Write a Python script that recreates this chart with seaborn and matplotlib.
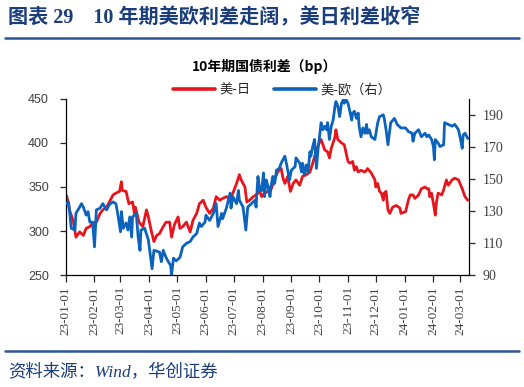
import pandas as pd
import numpy as np
import matplotlib
matplotlib.use("Agg")
import matplotlib.pyplot as plt
import matplotlib.dates as mdates
from matplotlib.lines import Line2D
import seaborn as sns

# US-Japan 10y spread (left axis, bp)
us_jp_dates = [
    "2023-01-02", "2023-01-04", "2023-01-05", "2023-01-09", "2023-01-12", "2023-01-16", "2023-01-20",
    "2023-01-23", "2023-01-27", "2023-01-30", "2023-02-03", "2023-02-07", "2023-02-10", "2023-02-14",
    "2023-02-17", "2023-02-21", "2023-02-24", "2023-02-28", "2023-03-02", "2023-03-03", "2023-03-07",
    "2023-03-10", "2023-03-14", "2023-03-16", "2023-03-17", "2023-03-21", "2023-03-25", "2023-03-29",
    "2023-03-31", "2023-04-03", "2023-04-06", "2023-04-09", "2023-04-12", "2023-04-16", "2023-04-19",
    "2023-04-23", "2023-04-25", "2023-04-28", "2023-05-02", "2023-05-04", "2023-05-07", "2023-05-11",
    "2023-05-15", "2023-05-18", "2023-05-22", "2023-05-25", "2023-05-29", "2023-06-01", "2023-06-05",
    "2023-06-09", "2023-06-12", "2023-06-16", "2023-06-19", "2023-06-23", "2023-06-27", "2023-06-30",
    "2023-07-04", "2023-07-07", "2023-07-09", "2023-07-13", "2023-07-15", "2023-07-18", "2023-07-22",
    "2023-07-25", "2023-07-29", "2023-07-31", "2023-08-03", "2023-08-07", "2023-08-10", "2023-08-14",
    "2023-08-17", "2023-08-21", "2023-08-23", "2023-08-25", "2023-08-28", "2023-08-31", "2023-09-03",
    "2023-09-06", "2023-09-10", "2023-09-13", "2023-09-17", "2023-09-21", "2023-09-24", "2023-09-28",
    "2023-10-01", "2023-10-03", "2023-10-07", "2023-10-10", "2023-10-12", "2023-10-14", "2023-10-18",
    "2023-10-19", "2023-10-21", "2023-10-25", "2023-10-28", "2023-11-01", "2023-11-03", "2023-11-06",
    "2023-11-08", "2023-11-10", "2023-11-12", "2023-11-15", "2023-11-19", "2023-11-21", "2023-11-22",
    "2023-11-26", "2023-11-30", "2023-12-01", "2023-12-03", "2023-12-05", "2023-12-07", "2023-12-09",
    "2023-12-10", "2023-12-12", "2023-12-14", "2023-12-16", "2023-12-19", "2023-12-23", "2023-12-27",
    "2023-12-28", "2024-01-02", "2024-01-05", "2024-01-07", "2024-01-10", "2024-01-12", "2024-01-16",
    "2024-01-19", "2024-01-23", "2024-01-25", "2024-01-27", "2024-01-28", "2024-01-30", "2024-02-01",
    "2024-02-03", "2024-02-04", "2024-02-06", "2024-02-10", "2024-02-12", "2024-02-15", "2024-02-17",
    "2024-02-21", "2024-02-24", "2024-02-28", "2024-03-03", "2024-03-06", "2024-03-09",
]
us_jp = [
    340, 331, 324, 312, 293, 299, 295, 303, 305, 309, 310, 320, 324, 327, 333, 341, 343, 345, 356, 346,
    345, 331, 333, 320, 327, 310, 305, 324, 316, 301, 288, 295, 297, 305, 310, 310, 293, 307, 316, 303,
    305, 310, 299, 312, 320, 331, 335, 327, 320, 326, 339, 335, 337, 339, 337, 343, 354, 364, 358, 350,
    333, 335, 339, 341, 345, 339, 343, 345, 347, 358, 367, 371, 360, 354, 362, 345, 354, 358, 352, 362,
    364, 367, 377, 392, 400, 404, 392, 390, 383, 394, 407, 415, 404, 400, 398, 379, 377, 379, 369, 373,
    367, 369, 367, 369, 371, 366, 358, 350, 354, 345, 343, 335, 343, 345, 324, 320, 327, 329, 326, 320,
    322, 335, 341, 341, 337, 341, 348, 350, 348, 348, 339, 343, 331, 318, 331, 343, 341, 347, 358, 352,
    358, 360, 358, 348, 339, 335,
]

# US-Euro 10y spread (right axis, bp)
us_eu_dates = [
    "2023-01-02", "2023-01-04", "2023-01-05", "2023-01-07", "2023-01-11", "2023-01-12", "2023-01-16",
    "2023-01-18", "2023-01-20", "2023-01-23", "2023-01-25", "2023-01-27", "2023-01-30", "2023-02-01",
    "2023-02-03", "2023-02-07", "2023-02-10", "2023-02-14", "2023-02-17", "2023-02-21", "2023-02-24",
    "2023-02-26", "2023-03-01", "2023-03-02", "2023-03-04", "2023-03-07", "2023-03-09", "2023-03-11",
    "2023-03-13", "2023-03-14", "2023-03-18", "2023-03-20", "2023-03-22", "2023-03-23", "2023-03-27",
    "2023-03-31", "2023-04-01", "2023-04-04", "2023-04-06", "2023-04-09", "2023-04-12", "2023-04-14",
    "2023-04-16", "2023-04-19", "2023-04-21", "2023-04-24", "2023-04-25", "2023-04-27", "2023-04-30",
    "2023-05-04", "2023-05-07", "2023-05-11", "2023-05-15", "2023-05-18", "2023-05-22", "2023-05-25",
    "2023-05-27", "2023-05-31", "2023-06-01", "2023-06-05", "2023-06-09", "2023-06-12", "2023-06-14",
    "2023-06-18", "2023-06-19", "2023-06-23", "2023-06-27", "2023-06-28", "2023-06-30", "2023-07-04",
    "2023-07-06", "2023-07-07", "2023-07-11", "2023-07-14", "2023-07-16", "2023-07-20", "2023-07-24",
    "2023-07-25", "2023-07-27", "2023-07-29", "2023-07-31", "2023-08-02", "2023-08-03", "2023-08-05",
    "2023-08-07", "2023-08-09", "2023-08-10", "2023-08-12", "2023-08-14", "2023-08-16", "2023-08-19",
    "2023-08-21", "2023-08-25", "2023-08-27", "2023-08-30", "2023-09-01", "2023-09-05", "2023-09-06",
    "2023-09-10", "2023-09-12", "2023-09-13", "2023-09-15", "2023-09-17", "2023-09-19", "2023-09-21",
    "2023-09-22", "2023-09-24", "2023-09-26", "2023-09-28", "2023-09-30", "2023-10-01", "2023-10-03",
    "2023-10-05", "2023-10-07", "2023-10-09", "2023-10-10", "2023-10-12", "2023-10-14", "2023-10-16",
    "2023-10-18", "2023-10-19", "2023-10-21", "2023-10-23", "2023-10-25", "2023-10-27", "2023-10-28",
    "2023-10-30", "2023-11-01", "2023-11-03", "2023-11-05", "2023-11-06", "2023-11-08", "2023-11-10",
    "2023-11-12", "2023-11-13", "2023-11-15", "2023-11-17", "2023-11-19", "2023-11-21", "2023-11-22",
    "2023-11-24", "2023-11-26", "2023-11-30", "2023-12-03", "2023-12-05", "2023-12-09", "2023-12-10",
    "2023-12-12", "2023-12-14", "2023-12-16", "2023-12-17", "2023-12-21", "2023-12-24", "2023-12-28",
    "2024-01-02", "2024-01-05", "2024-01-09", "2024-01-10", "2024-01-12", "2024-01-16", "2024-01-19",
    "2024-01-23", "2024-01-25", "2024-01-27", "2024-01-30", "2024-02-01", "2024-02-02", "2024-02-03",
    "2024-02-06", "2024-02-08", "2024-02-12", "2024-02-13", "2024-02-17", "2024-02-21", "2024-02-24",
    "2024-02-28", "2024-03-01", "2024-03-03", "2024-03-04", "2024-03-06", "2024-03-09",
]
us_eu = [
    134.6, 135.7, 130.7, 119.2, 118.1, 128.5, 132.4, 134.6, 132.4, 127.4, 129.6, 123.0, 123.0, 107.6,
    130.7, 131.8, 134.6, 130.7, 134.0, 135.7, 134.6, 128.5, 117.0, 129.6, 119.2, 122.5, 118.1, 126.3,
    113.7, 126.3, 128.5, 113.7, 105.4, 118.1, 119.2, 112.0, 107.6, 93.9, 105.4, 104.9, 104.3, 98.3,
    105.4, 101.0, 98.8, 96.0, 90.0, 100.5, 98.8, 101.0, 107.6, 109.8, 110.9, 113.7, 115.9, 122.5,
    120.3, 123.0, 127.4, 124.1, 128.5, 134.6, 120.3, 128.5, 125.2, 131.8, 141.2, 131.8, 139.0, 134.6,
    142.8, 136.8, 132.4, 118.1, 132.4, 134.6, 136.8, 132.4, 151.6, 142.8, 142.8, 153.8, 139.0, 149.4,
    145.0, 139.0, 145.0, 151.6, 147.2, 155.5, 156.6, 159.9, 164.3, 158.8, 149.4, 155.5, 157.7, 163.2,
    159.9, 154.4, 159.9, 152.7, 158.8, 154.4, 167.0, 164.3, 170.3, 174.7, 156.6, 170.3, 174.7, 185.2,
    180.8, 183.0, 180.8, 185.2, 174.7, 183.0, 186.8, 195.6, 198.4, 195.6, 189.0, 197.3, 199.5, 197.3,
    199.5, 197.3, 192.3, 186.8, 191.2, 192.3, 187.9, 191.2, 183.0, 176.4, 181.9, 178.6, 184.1, 178.6,
    180.8, 176.4, 174.7, 185.2, 189.0, 190.1, 187.9, 180.8, 171.4, 180.8, 185.2, 187.9, 184.1, 181.9,
    181.9, 179.7, 178.6, 173.6, 178.6, 180.8, 176.4, 178.6, 176.4, 177.5, 174.7, 170.3, 162.0, 174.7,
    172.5, 170.3, 171.4, 185.2, 184.1, 183.0, 184.1, 180.8, 175.3, 169.2, 177.5, 178.6, 175.3,
]

fig_title = "图表 29    10 年期美欧利差走阔，美日利差收窄"
chart_title = "10年期国债利差（bp）"
label_jp = "美-日"
label_eu = "美-欧（右）"
source = "资料来源：Wind，华创证券"

RED = "#E8141C"
BLUE = "#0B63BD"
NAVY = "#1A3D7C"

sns.set_theme(style="white")
plt.rcParams['font.family'] = ['Noto Sans CJK SC', 'DejaVu Sans']

df_jp = pd.DataFrame({"date": pd.to_datetime(us_jp_dates), "val": us_jp})
df_eu = pd.DataFrame({"date": pd.to_datetime(us_eu_dates), "val": us_eu})

fig = plt.figure(figsize=(5.24, 3.87), dpi=100)
ax = fig.add_axes([0.1254, 0.2894, 0.7691, 0.4548])
ax2 = ax.twinx()

sns.lineplot(data=df_jp, x="date", y="val", ax=ax, color=RED, lw=2.0)
sns.lineplot(data=df_eu, x="date", y="val", ax=ax2, color=BLUE, lw=2.0)

ax.set_xlim(pd.Timestamp("2023-01-01"), pd.Timestamp("2024-03-10"))
ax.set_ylim(250, 450)
ax.set_yticks(np.arange(250, 451, 50))
ax2.set_ylim(90, 200)
ax2.set_yticks(np.arange(90, 191, 20))

ax.xaxis.set_major_locator(mdates.MonthLocator())
ax.xaxis.set_major_formatter(mdates.DateFormatter("%y-%m-%d"))
for lab in ax.get_xticklabels():
    lab.set_rotation(90)

for a in (ax, ax2):
    a.set_xlabel("")
    a.set_ylabel("")
    a.spines["top"].set_visible(False)
    for s in ("left", "right", "bottom"):
        a.spines[s].set_color("black")
        a.spines[s].set_linewidth(0.9)
ax.spines["right"].set_visible(False)
ax2.spines["left"].set_visible(False)
ax2.spines["bottom"].set_visible(False)

ax.tick_params(axis="y", left=True, direction="out", length=4, width=0.9, pad=8,
               labelsize=9, labelcolor="#404040")
ax.tick_params(axis="x", bottom=True, direction="out", length=5, width=0.9, pad=3,
               labelsize=9.5, labelcolor="#404040")
ax2.tick_params(axis="y", right=True, direction="out", length=4, width=0.9, pad=6,
                labelsize=10, labelcolor="#404040")
for lab in ax.get_yticklabels():
    lab.set_family("Liberation Sans")
for lab in ax.get_xticklabels() + ax2.get_yticklabels():
    lab.set_family("Liberation Serif")

# header / footer
fig.text(0.015, 0.954, fig_title, fontsize=14.5, fontweight="bold", color=NAVY,
         ha="left", va="center", family=["Liberation Serif", "Noto Sans CJK SC"])
fig.add_artist(Line2D([0.01, 0.99], [1 - 37.5 / 387] * 2, color="#2B5597", lw=1.8))
fig.add_artist(Line2D([0.01, 0.99], [1 - 351 / 387] * 2, color="#2B5597", lw=1.8))
fig.text(0.015, 1 - 373 / 387, source, fontsize=12.5, style="italic", color=NAVY,
         ha="left", va="center", family=["Liberation Serif", "Noto Sans CJK SC"])

fig.text(265 / 524, 1 - 66 / 387, chart_title, fontsize=10, fontweight="bold",
         color="black", ha="center", va="center")

handles = [Line2D([], [], color=RED, lw=2.6), Line2D([], [], color=BLUE, lw=2.6)]
fig.legend(handles, [label_jp, label_eu], loc="center", bbox_to_anchor=(282 / 524, 1 - 90 / 387),
           ncol=2, frameon=False, fontsize=9.5, handlelength=3.2, handletextpad=0.3,
           columnspacing=1.8)

fig.savefig("out.png", dpi=100)
